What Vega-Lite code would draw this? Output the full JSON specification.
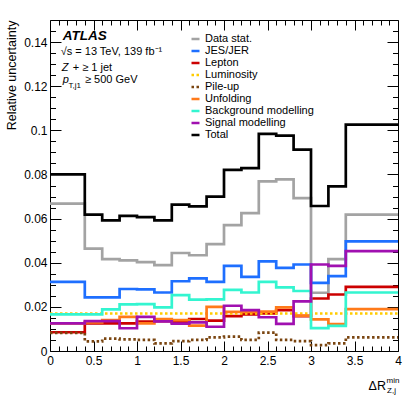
{
  "$schema": "https://vega.github.io/schema/vega-lite/v6.json",
  "width": 348,
  "height": 331,
  "autosize": {"type": "none"},
  "padding": {"left": 50, "top": 20, "right": 17, "bottom": 48},
  "background": "white",
  "data": {
    "values": [
      {"x0": 0.0, "x1": 0.4, "stat": 0.0668, "jes": 0.0313, "lep": 0.0085, "lumi": 0.017, "pu": 0.0082, "unf": 0.0125, "bkg": 0.0166, "sig": 0.0125, "tot": 0.0800},
      {"x0": 0.4, "x1": 0.6, "stat": 0.0464, "jes": 0.0243, "lep": 0.0125, "lumi": 0.017, "pu": 0.0044, "unf": 0.0130, "bkg": 0.0166, "sig": 0.0135, "tot": 0.0618},
      {"x0": 0.6, "x1": 0.8, "stat": 0.0416, "jes": 0.0243, "lep": 0.0125, "lumi": 0.017, "pu": 0.0056, "unf": 0.0140, "bkg": 0.0189, "sig": 0.0135, "tot": 0.0592},
      {"x0": 0.8, "x1": 1.0, "stat": 0.0411, "jes": 0.0281, "lep": 0.0125, "lumi": 0.017, "pu": 0.0053, "unf": 0.0155, "bkg": 0.0211, "sig": 0.0103, "tot": 0.0612},
      {"x0": 1.0, "x1": 1.2, "stat": 0.0403, "jes": 0.0279, "lep": 0.0133, "lumi": 0.017, "pu": 0.0050, "unf": 0.0125, "bkg": 0.0212, "sig": 0.0155, "tot": 0.0607},
      {"x0": 1.2, "x1": 1.4, "stat": 0.0389, "jes": 0.0265, "lep": 0.0135, "lumi": 0.017, "pu": 0.0035, "unf": 0.0145, "bkg": 0.0198, "sig": 0.0134, "tot": 0.0592},
      {"x0": 1.4, "x1": 1.6, "stat": 0.0444, "jes": 0.0316, "lep": 0.0130, "lumi": 0.017, "pu": 0.0045, "unf": 0.0140, "bkg": 0.0253, "sig": 0.0124, "tot": 0.0663},
      {"x0": 1.6, "x1": 1.8, "stat": 0.0434, "jes": 0.0329, "lep": 0.0145, "lumi": 0.017, "pu": 0.0050, "unf": 0.0115, "bkg": 0.0233, "sig": 0.0130, "tot": 0.0655},
      {"x0": 1.8, "x1": 2.0, "stat": 0.0484, "jes": 0.0313, "lep": 0.0138, "lumi": 0.017, "pu": 0.0062, "unf": 0.0200, "bkg": 0.0234, "sig": 0.0110, "tot": 0.0700},
      {"x0": 2.0, "x1": 2.2, "stat": 0.0570, "jes": 0.0386, "lep": 0.0158, "lumi": 0.017, "pu": 0.0065, "unf": 0.0177, "bkg": 0.0277, "sig": 0.0205, "tot": 0.0821},
      {"x0": 2.2, "x1": 2.4, "stat": 0.0625, "jes": 0.0336, "lep": 0.0166, "lumi": 0.017, "pu": 0.0050, "unf": 0.0177, "bkg": 0.0265, "sig": 0.0185, "tot": 0.0829},
      {"x0": 2.4, "x1": 2.6, "stat": 0.0769, "jes": 0.0406, "lep": 0.0170, "lumi": 0.017, "pu": 0.0083, "unf": 0.0178, "bkg": 0.0313, "sig": 0.0153, "tot": 0.0984},
      {"x0": 2.6, "x1": 2.8, "stat": 0.0778, "jes": 0.0377, "lep": 0.0185, "lumi": 0.017, "pu": 0.0050, "unf": 0.0198, "bkg": 0.0288, "sig": 0.0123, "tot": 0.0976},
      {"x0": 2.8, "x1": 3.0, "stat": 0.0693, "jes": 0.0392, "lep": 0.0158, "lumi": 0.017, "pu": 0.0045, "unf": 0.0160, "bkg": 0.0272, "sig": 0.0225, "tot": 0.0913},
      {"x0": 3.0, "x1": 3.2, "stat": 0.0264, "jes": 0.0309, "lep": 0.0238, "lumi": 0.017, "pu": 0.0027, "unf": 0.0143, "bkg": 0.0104, "sig": 0.0392, "tot": 0.0657},
      {"x0": 3.2, "x1": 3.4, "stat": 0.0416, "jes": 0.0339, "lep": 0.0256, "lumi": 0.017, "pu": 0.0035, "unf": 0.0122, "bkg": 0.0114, "sig": 0.0386, "tot": 0.0746},
      {"x0": 3.4, "x1": 4.0, "stat": 0.0618, "jes": 0.0497, "lep": 0.0291, "lumi": 0.017, "pu": 0.0062, "unf": 0.0190, "bkg": 0.0265, "sig": 0.0453, "tot": 0.1026}
    ]
  },
  "layer": [
    {
      "transform": [
        {"fold": ["stat", "jes", "lep", "lumi", "pu", "unf", "bkg", "sig", "tot"], "as": ["s", "v"]},
        {"fold": ["x0", "x1"], "as": ["edge", "x"]}
      ],
      "mark": {"type": "line", "strokeWidth": 2.7, "interpolate": "linear", "strokeCap": "butt", "strokeJoin": "miter"},
      "encoding": {
        "x": {
          "field": "x", "type": "quantitative",
          "scale": {"domain": [0, 4], "nice": false, "zero": false},
          "axis": {
            "orient": "bottom", "title": null, "format": "~g",
            "values": [0,0.5,1,1.5,2,2.5,3,3.5,4],
            "labelOverlap": false, "labelFlush": false,
            "ticks": false, "labelPadding": 4,
            "grid": true, "gridColor": "black", "gridWidth": 1, "gridOpacity": 1, "gridDash": [10, 311]
          }
        },
        "y": {
          "field": "v", "type": "quantitative",
          "scale": {"domain": [0, 0.15], "nice": false, "zero": false},
          "axis": {
            "orient": "left", "title": "Relative uncertainty", "titleAnchor": "end", "titleFontSize": 12.5, "titlePadding": 5,
            "format": "~g",
            "values": [0,0.02,0.04,0.06,0.08,0.1,0.12,0.14],
            "labelOverlap": false, "labelFlush": false,
            "ticks": false, "labelPadding": 3,
            "grid": true, "gridColor": "black", "gridWidth": 1, "gridOpacity": 1, "gridDash": [11, 326]
          }
        },
        "color": {
          "field": "s", "type": "nominal",
          "scale": {
            "domain": ["stat", "jes", "lep", "lumi", "pu", "unf", "bkg", "sig", "tot"],
            "range": ["#a3a3a3", "#1e6fff", "#cc0000", "#ffcc00", "#7a4510", "#ff7a1a", "#33f5d0", "#a010b0", "#000000"]
          },
          "legend": {
            "orient": "none", "legendX": 140, "legendY": 13.5, "title": null,
            "symbolType": "stroke", "symbolSize": 64, "symbolStrokeWidth": 2.5,
            "labelFont": "Liberation Sans", "labelFontSize": 11, "labelColor": "black", "labelOffset": 4,
            "rowPadding": 0, "padding": 0, "labelLimit": 300,
            "labelExpr": "{'stat':'Data stat.','jes':'JES/JER','lep':'Lepton','lumi':'Luminosity','pu':'Pile-up','unf':'Unfolding','bkg':'Background modelling','sig':'Signal modelling','tot':'Total'}[datum.label]"
          }
        },
        "strokeDash": {
          "field": "s", "type": "nominal",
          "scale": {
            "domain": ["stat", "jes", "lep", "lumi", "pu", "unf", "bkg", "sig", "tot"],
            "range": [[1, 0], [1, 0], [1, 0], [2.5, 2.5], [2.5, 2.5], [1, 0], [1, 0], [1, 0], [1, 0]]
          },
          "legend": {
            "orient": "none", "legendX": 140, "legendY": 13.5, "title": null,
            "symbolType": "stroke", "symbolSize": 64, "symbolStrokeWidth": 2.5,
            "labelFont": "Liberation Sans", "labelFontSize": 11, "labelColor": "black", "labelOffset": 4,
            "rowPadding": 0, "padding": 0, "labelLimit": 300,
            "labelExpr": "{'stat':'Data stat.','jes':'JES/JER','lep':'Lepton','lumi':'Luminosity','pu':'Pile-up','unf':'Unfolding','bkg':'Background modelling','sig':'Signal modelling','tot':'Total'}[datum.label]"
          }
        },
        "order": [{"field": "x", "type": "quantitative"}, {"field": "edge", "sort": "descending"}]
      }
    },
    {
      "mark": {"type": "line", "opacity": 0},
      "encoding": {
        "x": {
          "field": "x0", "type": "quantitative",
          "scale": {"domain": [0, 4], "nice": false, "zero": false},
          "axis": {"orient": "top", "title": null, "labels": false, "ticks": false,
            "grid": true, "gridColor": "black", "gridWidth": 1, "gridOpacity": 1, "gridDash": [5, 321],
            "values": [0.1,0.2,0.3,0.4,0.6,0.7,0.8,0.9,1.1,1.2,1.3,1.4,1.6,1.7,1.8,1.9,2.1,2.2,2.3,2.4,2.6,2.7,2.8,2.9,3.1,3.2,3.3,3.4,3.6,3.7,3.8,3.9]}
        },
        "y": {
          "field": "tot", "type": "quantitative",
          "scale": {"domain": [0, 0.15], "nice": false, "zero": false},
          "axis": {"orient": "right", "title": null, "labels": false, "ticks": false,
            "grid": true, "gridColor": "black", "gridWidth": 1, "gridOpacity": 1, "gridDash": [5.5, 337],
            "values": [0.005,0.01,0.015,0.025,0.03,0.035,0.045,0.05,0.055,0.065,0.07,0.075,0.085,0.09,0.095,0.105,0.11,0.115,0.125,0.13,0.135,0.145]}
        }
      }
    },
    {
      "data": {"values": [{}]},
      "mark": {"type": "text", "text": "ATLAS", "font": "Liberation Sans", "fontSize": 13.5, "fontWeight": "bold", "fontStyle": "italic", "align": "left", "baseline": "alphabetic", "color": "black"},
      "encoding": {"x": {"datum": 0.146, "axis": null}, "y": {"datum": 0.1409, "axis": null}}
    },
    {
      "data": {"values": [{}]},
      "mark": {"type": "text", "text": "√s = 13 TeV, 139 fb⁻¹", "font": "Liberation Sans", "fontSize": 11, "align": "left", "baseline": "alphabetic", "color": "black"},
      "encoding": {"x": {"datum": 0.123, "axis": null}, "y": {"datum": 0.1343, "axis": null}}
    },
    {
      "data": {"values": [{}]},
      "mark": {"type": "text", "text": "Z", "font": "Liberation Sans", "fontSize": 11, "fontStyle": "italic", "align": "left", "baseline": "alphabetic", "color": "black"},
      "encoding": {"x": {"datum": 0.134, "axis": null}, "y": {"datum": 0.127, "axis": null}}
    },
    {
      "data": {"values": [{}]},
      "mark": {"type": "text", "text": "+ ≥ 1 jet", "font": "Liberation Sans", "fontSize": 11, "align": "left", "baseline": "alphabetic", "color": "black"},
      "encoding": {"x": {"datum": 0.261, "axis": null}, "y": {"datum": 0.127, "axis": null}}
    },
    {
      "data": {"values": [{}]},
      "mark": {"type": "text", "text": "p", "font": "Liberation Sans", "fontSize": 11, "fontStyle": "italic", "align": "left", "baseline": "alphabetic", "color": "black"},
      "encoding": {"x": {"datum": 0.146, "axis": null}, "y": {"datum": 0.1213, "axis": null}}
    },
    {
      "data": {"values": [{}]},
      "mark": {"type": "text", "text": "T,j1", "font": "Liberation Sans", "fontSize": 8, "align": "left", "baseline": "alphabetic", "color": "black"},
      "encoding": {"x": {"datum": 0.213, "axis": null}, "y": {"datum": 0.1193, "axis": null}}
    },
    {
      "data": {"values": [{}]},
      "mark": {"type": "text", "text": "≥ 500 GeV", "font": "Liberation Sans", "fontSize": 11, "align": "left", "baseline": "alphabetic", "color": "black"},
      "encoding": {"x": {"datum": 0.402, "axis": null}, "y": {"datum": 0.1213, "axis": null}}
    },
    {
      "data": {"values": [{}]},
      "mark": {"type": "text", "text": "ΔR", "font": "Liberation Sans", "fontSize": 12.5, "align": "right", "baseline": "alphabetic", "color": "black"},
      "encoding": {"x": {"datum": 3.862, "axis": null}, "y": {"datum": -0.0176, "axis": null}}
    },
    {
      "data": {"values": [{}]},
      "mark": {"type": "text", "text": "min", "font": "Liberation Sans", "fontSize": 8, "align": "left", "baseline": "alphabetic", "color": "black"},
      "encoding": {"x": {"datum": 3.868, "axis": null}, "y": {"datum": -0.0145, "axis": null}}
    },
    {
      "data": {"values": [{}]},
      "mark": {"type": "text", "text": "Z,j", "font": "Liberation Sans", "fontSize": 8, "align": "left", "baseline": "alphabetic", "color": "black"},
      "encoding": {"x": {"datum": 3.874, "axis": null}, "y": {"datum": -0.019, "axis": null}}
    }
  ],
  "resolve": {"axis": {"x": "independent", "y": "independent"}},
  "config": {
    "view": {"stroke": "black", "strokeWidth": 1},
    "axis": {
      "labelFont": "Liberation Sans", "labelFontSize": 12, "labelColor": "black",
      "tickColor": "black", "tickWidth": 1, "domain": false,
      "titleFont": "Liberation Sans", "titleColor": "black", "titleFontWeight": "normal"
    }
  }
}
